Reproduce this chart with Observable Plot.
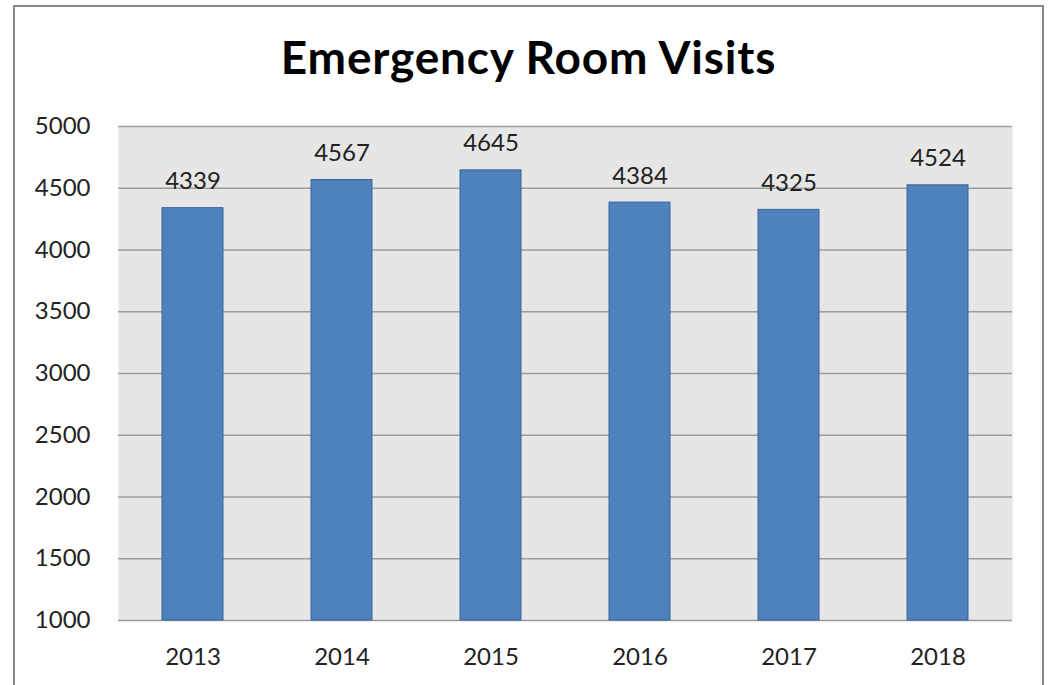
<!DOCTYPE html>
<html>
<head>
<meta charset="utf-8">
<script src="https://cdn.jsdelivr.net/npm/d3@7"></script>
<script src="https://cdn.jsdelivr.net/npm/@observablehq/plot@0.6"></script>
<style>
  html, body { margin: 0; padding: 0; background: #fff; }
  #wrap { position: relative; width: 1048px; height: 685px; overflow: hidden; font-family: Lato, "Open Sans", sans-serif; }
  #frame { position: absolute; left: 13px; top: 5px; width: 1027px; height: 720px; border: 2px solid #888; box-sizing: content-box; }
  #title { position: absolute; left: 0; top: 0; width: 1048px; height: 110px; box-sizing: border-box; padding-top: 34px; padding-left: 9px;
           text-align: center; font-size: 46px; line-height: 46px; font-weight: 700; color: #000; letter-spacing: 0.8px; }
  #chart { position: absolute; left: 0; top: 110px; }
</style>
</head>
<body>
<div id="wrap">
  <div id="frame"></div>
  <div id="title">Emergency Room Visits</div>
  <div id="chart"></div>
</div>
<script>
const years = ["2013", "2014", "2015", "2016", "2017", "2018"];
const visits = [4339, 4567, 4645, 4384, 4325, 4524];
const yTicks = [1000, 1500, 2000, 2500, 3000, 3500, 4000, 4500, 5000];
const yMin = 1000;
const yMax = 5000;

const data = years.map((year, i) => ({year, value: visits[i]}));

const chart = Plot.plot({
  width: 1048,
  height: 575,
  marginLeft: 118,
  marginRight: 36,
  marginTop: 16,
  marginBottom: 65,
  style: {fontFamily: "Lato, 'Open Sans', sans-serif", fontSize: "24px", color: "#222", background: "transparent", overflow: "visible"},
  x: {domain: years, paddingInner: 0.59, paddingOuter: 0.295, label: null},
  y: {domain: [yMin, yMax], ticks: yTicks, label: null},
  marks: [
    Plot.frame({fill: "#e6e6e6", stroke: null}),
    Plot.ruleY(yTicks, {stroke: "#9c9c9c", strokeWidth: 1.3}),
    Plot.ruleX([0], {frameAnchor: "left", stroke: "#9c9c9c", strokeWidth: 1.3}),
    Plot.barY(data, {x: "year", y1: () => yMin, y2: "value", fill: "#4f81bd", stroke: "#3b659a", strokeWidth: 1}),
    Plot.text(data, {x: "year", y: "value", text: d => String(d.value), dy: -19, lineAnchor: "bottom", fontSize: 24, fill: "#222"}),
    Plot.axisX({tickSize: 0, tickPadding: 27, fontSize: 24}),
    Plot.axisY({ticks: yTicks, tickFormat: d => String(d), tickSize: 0, tickPadding: 28, fontSize: 24})
  ]
});
document.getElementById("chart").appendChild(chart);
</script>
</body>
</html>
